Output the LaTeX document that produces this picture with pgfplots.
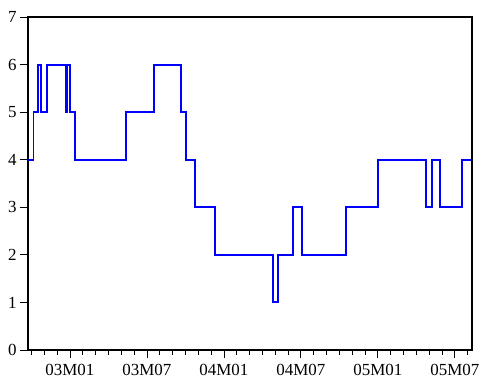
\documentclass[border=0pt]{standalone}
\usepackage{fontspec}
\setmainfont{Liberation Serif}
\usepackage{pgfplots}
\pgfplotsset{compat=1.18}
\definecolor{seriesblue}{RGB}{0,0,255}

\begin{document}
\begin{tikzpicture}
\path[use as bounding box] (-28bp,-33bp) rectangle (455bp,350bp);
\begin{axis}[
  scale only axis,
  width=444bp, height=333bp,
  at={(0,0)}, anchor=south west,
  xmin=-3.27, xmax=31.33,
  ymin=0, ymax=7,
  xtick={0,6,12,18,24,30},
  xticklabels={03M01,03M07,04M01,04M07,05M01,05M07},
  minor xtick={-3,...,31},
  ytick={0,...,7},
  xtick pos=bottom, ytick pos=left,
  tick align=outside,
  major tick length=8bp,
  minor tick length=5bp,
  every tick/.style={black, line width=0.9bp},
  axis line style={black, line width=1.3bp},
  tick label style={font=\fontsize{17}{19}\selectfont},
  xticklabel style={yshift=-3bp},
  /pgf/number format/assume math mode=true,
]
\addplot[const plot, draw=seriesblue, line width=1.9bp, line join=miter] coordinates {
  (-3.27,4) (-2.84,5) (-2.47,6) (-2.28,5) (-1.77,6) (-0.34,5) (-0.21,6)
  (0,5) (0.39,4) (4.34,5) (6.55,6) (8.65,5) (9.04,4) (9.74,3) (11.30,2)
  (15.85,1) (16.19,2) (17.40,3) (18.06,2) (21.49,3) (24.03,4) (27.75,3)
  (28.19,4) (28.84,3) (30.53,4) (31.33,4)
};
\end{axis}
\end{tikzpicture}
\end{document}
